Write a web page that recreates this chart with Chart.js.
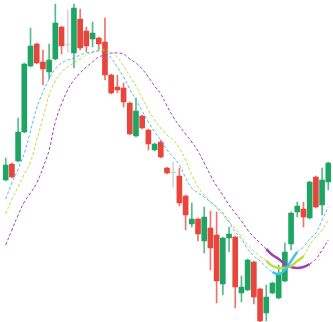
<!DOCTYPE html>
<html>
<head>
<meta charset="utf-8">
<script src="https://cdn.jsdelivr.net/npm/chart.js@4.4.0/dist/chart.umd.min.js"></script>
<style>
  html, body { margin: 0; padding: 0; background: #fff; }
  #wrap { width: 333px; height: 322px; }
</style>
</head>
<body>
<div id="wrap"><canvas id="myChart"></canvas></div>
<script>
// candle values
const opens  = [24.2, 25.8, 26.1, 29.0, 35.6, 37.8, 36.0, 35.0, 36.3, 39.5, 37.7, 36.9, 40.3, 39.1, 38.3, 38.4, 38.0, 34.7, 33.5, 33.4, 31.9, 28.6, 30.6, 29.2, 27.2, 28.0, 25.4, 24.9, 24.6, 22.6, 19.8, 20.3, 18.1, 19.4, 18.7, 13.8, 18.4, 18.5, 12.9, 13.2, 16.0, 13.3, 10.9, 12.9, 12.4, 14.1, 17.8, 21.0, 21.3, 20.4, 24.5, 21.7, 24.0];
const closes = [25.7, 24.5, 29.0, 35.8, 37.6, 35.9, 35.3, 36.2, 39.9, 37.6, 37.7, 41.4, 37.4, 37.6, 38.9, 37.8, 34.7, 32.9, 33.2, 32.0, 28.8, 31.1, 29.4, 27.8, 27.8, 26.5, 24.9, 24.9, 21.9, 20.7, 20.3, 18.8, 20.5, 17.4, 14.1, 18.4, 18.8, 13.5, 13.5, 16.2, 12.5, 10.1, 12.5, 13.9, 14.8, 17.0, 20.9, 21.6, 20.5, 24.0, 21.5, 24.2, 25.9];
const highs  = [26.4, 25.9, 30.4, 35.9, 39.4, 37.9, 37.2, 37.8, 41.8, 39.6, 41.2, 41.8, 41.3, 39.5, 40.0, 38.5, 40.4, 34.8, 34.7, 33.9, 32.0, 32.4, 30.7, 29.3, 27.9, 28.2, 25.5, 26.0, 25.4, 22.7, 21.9, 20.4, 21.5, 21.1, 21.0, 18.5, 19.5, 18.6, 14.6, 16.3, 16.1, 13.4, 13.7, 14.0, 15.7, 17.9, 21.0, 22.0, 22.0, 24.1, 24.6, 25.4, 26.0];
const lows   = [24.1, 24.4, 26.0, 28.9, 35.5, 35.8, 33.7, 34.3, 36.2, 36.8, 37.0, 35.4, 37.2, 37.0, 37.5, 37.2, 34.2, 32.8, 32.9, 31.5, 28.7, 28.5, 29.3, 27.2, 27.1, 26.4, 24.8, 23.5, 21.6, 19.2, 19.5, 18.1, 16.9, 15.2, 11.9, 12.7, 17.0, 11.4, 12.0, 13.1, 11.8, 10.0, 10.1, 12.8, 12.3, 14.0, 17.2, 20.5, 19.5, 20.3, 21.4, 20.7, 23.2];

// moving average lines
const maFast = [22.3, 23.9, 25.3, 26.9, 29.1, 31.4, 33.0, 34.3, 35.3, 35.9, 36.2, 36.4, 36.7, 36.9, 37.0, 37.1, 37.0, 36.4, 35.5, 34.5, 33.3, 32.2, 31.1, 30.0, 29.0, 28.2, 27.2, 26.5, 25.7, 24.4, 23.4, 22.9, 22.5, 22.0, 21.5, 20.9, 20.0, 19.0, 18.3, 17.3, 16.6, 16.1, 15.5, 15.0, 14.8, 15.2, 16.1, 17.0, 17.5, 18.3, 18.9, 20.2, 21.5];
const maMid  = [20.8, 22.3, 23.5, 24.8, 26.0, 28.2, 30.4, 32.7, 34.1, 35.0, 35.5, 35.9, 36.3, 36.7, 37.0, 37.2, 37.2, 37.0, 36.5, 35.6, 34.6, 33.6, 32.4, 31.2, 30.2, 29.4, 28.7, 28.2, 27.4, 26.2, 24.7, 23.5, 22.7, 22.0, 21.4, 20.7, 20.0, 19.4, 18.5, 17.7, 17.1, 16.6, 16.1, 15.6, 15.4, 15.4, 15.6, 16.1, 16.6, 17.7, 18.5, 19.2, 20.2];
const maSlow = [17.7, 19.2, 20.7, 22.0, 22.9, 23.9, 25.4, 27.2, 30.0, 31.8, 33.2, 34.2, 34.9, 35.5, 36.0, 36.5, 36.7, 36.9, 36.9, 36.8, 36.3, 35.9, 35.3, 34.5, 33.6, 32.8, 31.6, 30.5, 29.6, 28.8, 28.0, 27.1, 25.9, 24.7, 23.6, 22.7, 21.7, 20.9, 20.1, 19.2, 18.5, 17.9, 17.3, 16.7, 16.3, 15.8, 15.5, 15.4, 15.5, 15.8, 16.3, 17.2, 18.2];

const labels = opens.map((o, i) => i + 1);

const upColor = '#1ea463';
const downColor = '#e8453c';
const flatColor = '#d4d4d4';

function candleColor(i, alpha) {
  if (opens[i] === closes[i]) return flatColor;
  const c = closes[i] > opens[i] ? upColor : downColor;
  return alpha ? c + alpha : c;
}

// thick solid part of each line near the bottom
function thickSegment(from, to) {
  return {
    borderWidth: ctx => (ctx.p0DataIndex >= from && ctx.p1DataIndex <= to) ? 2.5 : 1,
    borderDash: ctx => (ctx.p0DataIndex >= from && ctx.p1DataIndex <= to) ? [] : [3, 2]
  };
}

function lineSet(data, color, from, to) {
  return {
    type: 'line',
    data: data,
    borderColor: color,
    borderWidth: 1,
    borderDash: [3, 2],
    pointRadius: 0,
    tension: 0.4,
    fill: false,
    order: 0,
    segment: thickSegment(from, to)
  };
}

new Chart(document.getElementById('myChart'), {
  type: 'bar',
  data: {
    labels: labels,
    datasets: [
      lineSet(maFast, '#45bff0', 43, 47),
      lineSet(maMid, '#c2dc38', 42, 48),
      lineSet(maSlow, '#a03fb3', 42, 49),
      {
        // candle bodies
        data: opens.map((o, i) => [o, closes[i]]),
        backgroundColor: opens.map((o, i) => candleColor(i)),
        barThickness: 5,
        minBarLength: 1,
        grouped: false,
        order: 1
      },
      {
        // wicks
        data: lows.map((l, i) => [l, highs[i]]),
        backgroundColor: lows.map((l, i) => candleColor(i, 'c0')),
        barThickness: 1,
        grouped: false,
        order: 2
      }
    ]
  },
  options: {
    responsive: true,
    maintainAspectRatio: false,
    animation: false,
    layout: { padding: { left: 2.6, right: 1.6, top: 0, bottom: 0 } },
    plugins: {
      legend: { display: false },
      tooltip: { enabled: false }
    },
    scales: {
      x: {
        display: false,
        offset: true,
        grid: { display: false }
      },
      y: {
        display: false,
        min: 10,
        max: 42.2,
        grid: { display: false }
      }
    }
  }
});
</script>
</body>
</html>
